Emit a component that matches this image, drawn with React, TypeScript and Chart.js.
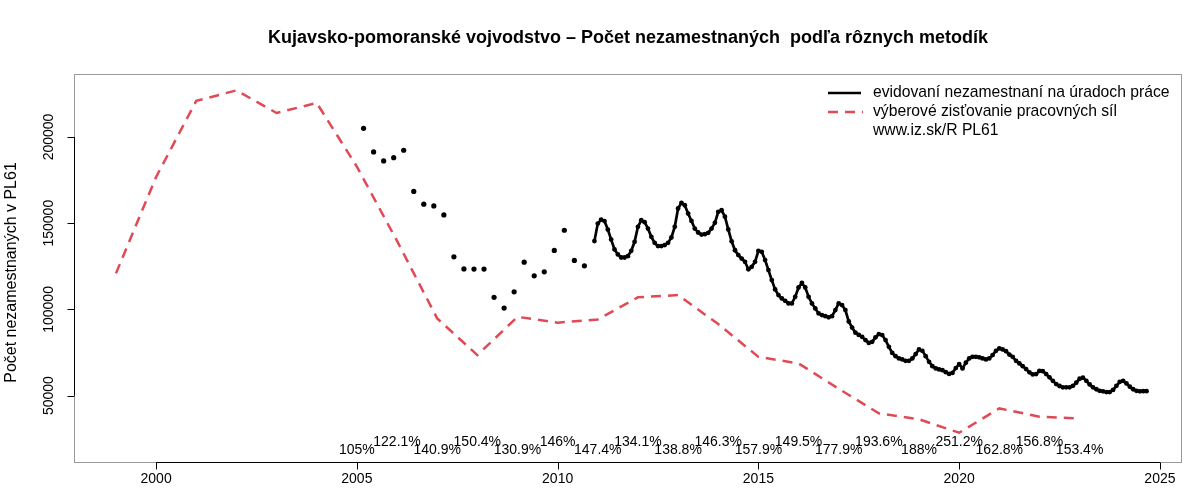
import { useEffect, useRef } from "react";
import { Chart, registerables } from "chart.js";

Chart.register(...registerables);

// ---- data ----
const lfsYears = [1999, 2000, 2001, 2002, 2003, 2004, 2005, 2006, 2007, 2008, 2009, 2010, 2011, 2012, 2013, 2014, 2015, 2016, 2017, 2018, 2019, 2020, 2021, 2022, 2023];
const lfsValues = [120900, 176800, 220900, 227000, 213900, 219700, 182800, 139700, 94800, 73500, 95700, 92300, 94200, 107000, 108300, 91500, 72500, 68700, 54000, 39700, 36300, 28500, 42600, 37800, 36700];

// quarterly registered unemployment, March 2005 .. September 2010
const quarterlyStartYear = 2005;
const quarterlyStartMonth = 3;
const quarterlyValues = [205000, 191300, 186100, 188000, 192300, 168400, 161000, 160000, 154800, 130500, 123500, 123400, 123400, 107000, 100800, 110200, 127400, 119500, 121800, 134200, 145900, 128400, 125300];

// monthly registered unemployment, December 2010 .. September 2024
const monthlyStartYear = 2010;
const monthlyStartMonth = 12;
const monthlyValues = [
  139600,
  149800, 152100, 151200, 146300, 140500, 134800, 131900, 130100, 130100, 130900, 134000, 139200,
  147900, 151700, 150600, 146900, 142100, 138600, 136700, 136700, 137300, 138600, 141700, 147900,
  158500, 161800, 160400, 155600, 151300, 146900, 144600, 143400, 143600, 144400, 146900, 150200,
  156600, 157500, 153800, 146400, 139500, 134300, 131500, 129500, 127600, 123300, 124700, 127600,
  134000, 133400, 128600, 122800, 117000, 111600, 108300, 106400, 105000, 103500, 103500, 107300,
  112700, 115400, 112700, 107300, 103500, 100600, 97700, 96700, 96100, 95400, 96100, 99600,
  103500, 102500, 99600, 93000, 89500, 86500, 85200, 84100, 82200, 80600, 81200, 83800,
  85700, 85100, 82200, 78300, 74800, 72900, 71600, 71000, 70200, 70200, 71600, 74100,
  76800, 76000, 72900, 69600, 67100, 65800, 65200, 64800, 63600, 62600, 63200, 66000,
  68300, 65800, 69100, 71600, 72500, 72500, 72200, 71600, 71000, 71600, 73500, 76000,
  77400, 76800, 75800, 73800, 72500, 70200, 68700, 67100, 65400, 63500, 62300, 62500,
  64400, 64200, 62500, 60600, 58600, 56700, 55600, 54800, 54800, 54800, 55700, 57500,
  59800, 60400, 58600, 56500, 54800, 53700, 52800, 52500, 52100, 52100, 53300, 55700,
  58000, 58600, 57100, 55200, 53700, 52800, 52500, 52600, 52600,
];

const ratioYears = [2005, 2006, 2007, 2008, 2009, 2010, 2011, 2012, 2013, 2014, 2015, 2016, 2017, 2018, 2019, 2020, 2021, 2022, 2023];
const ratioLabels = ["105%", "122.1%", "140.9%", "150.4%", "130.9%", "146%", "147.4%", "134.1%", "138.8%", "146.3%", "157.9%", "149.5%", "177.9%", "193.6%", "188%", "251.2%", "162.8%", "156.8%", "153.4%"];

const xTicks = [2000, 2005, 2010, 2015, 2020, 2025];
const yTicks = [50000, 100000, 150000, 200000];

const titleText = "Kujavsko-pomoranské vojvodstvo – Počet nezamestnaných  podľa rôznych metodík";
const yTitle = "Počet nezamestnaných v PL61";
const legendLabels = ["evidovaní nezamestnaní na úradoch práce", "výberové zisťovanie pracovných síl", "www.iz.sk/R PL61"];

const RED = "#DF4A55";
const FONT = "'Liberation Sans', Arial, Helvetica, sans-serif";

const toDecimal = (year: number, month: number, step: number, i: number) => {
  const m = month - 1 + step * i;
  return year + m / 12;
};

const decoPlugin = {
  id: "deco",
  afterDraw(chart: any) {
    const ctx: CanvasRenderingContext2D = chart.ctx;
    const xs = chart.scales.x;
    const ys = chart.scales.y;
    const a = chart.chartArea;
    ctx.save();

    // box
    ctx.strokeStyle = "#9a9a9a";
    ctx.lineWidth = 1;
    ctx.strokeRect(Math.round(a.left) - 0.5, Math.round(a.top) - 0.5, Math.round(a.right - a.left) + 1, Math.round(a.bottom - a.top) + 1);

    // x axis
    ctx.strokeStyle = "#000";
    ctx.fillStyle = "#000";
    const xb = Math.round(a.bottom) + 0.5;
    ctx.beginPath();
    ctx.moveTo(xs.getPixelForValue(xTicks[0]), xb);
    ctx.lineTo(xs.getPixelForValue(xTicks[xTicks.length - 1]), xb);
    xTicks.forEach((t) => {
      const px = Math.round(xs.getPixelForValue(t)) + 0.5;
      ctx.moveTo(px, xb);
      ctx.lineTo(px, xb + 7);
    });
    ctx.stroke();
    ctx.font = `14px ${FONT}`;
    ctx.textAlign = "center";
    ctx.textBaseline = "middle";
    xTicks.forEach((t) => ctx.fillText(String(t), xs.getPixelForValue(t), a.bottom + 17));

    // y axis
    const yl = Math.round(a.left) - 0.5;
    ctx.beginPath();
    ctx.moveTo(yl, ys.getPixelForValue(yTicks[0]));
    ctx.lineTo(yl, ys.getPixelForValue(yTicks[yTicks.length - 1]));
    yTicks.forEach((t) => {
      const py = Math.round(ys.getPixelForValue(t)) + 0.5;
      ctx.moveTo(yl, py);
      ctx.lineTo(yl - 7, py);
    });
    ctx.stroke();
    yTicks.forEach((t) => {
      ctx.save();
      ctx.translate(a.left - 26, ys.getPixelForValue(t));
      ctx.rotate(-Math.PI / 2);
      ctx.fillText(String(t), 0, 0);
      ctx.restore();
    });

    // y title
    ctx.save();
    ctx.font = `16px ${FONT}`;
    ctx.translate(12, (a.top + a.bottom) / 2 + 4);
    ctx.rotate(-Math.PI / 2);
    ctx.fillText(yTitle, 0, 0);
    ctx.restore();

    // title
    ctx.font = `bold 18px ${FONT}`;
    ctx.fillText(titleText, (a.left + a.right) / 2, 38);

    // ratio labels
    ctx.font = `14px ${FONT}`;
    ratioYears.forEach((yr, i) => {
      const py = i % 2 === 0 ? a.bottom - 12 : a.bottom - 20;
      ctx.fillText(ratioLabels[i], xs.getPixelForValue(yr), py);
    });

    // legend
    const lx0 = 828, lx1 = 861, tx = 873;
    const rows = [93, 112, 131];
    ctx.lineWidth = 2.5;
    ctx.strokeStyle = "#000";
    ctx.beginPath();
    ctx.moveTo(lx0, rows[0]);
    ctx.lineTo(lx1, rows[0]);
    ctx.stroke();
    ctx.strokeStyle = RED;
    ctx.setLineDash([10, 7]);
    ctx.beginPath();
    ctx.moveTo(lx0, rows[1]);
    ctx.lineTo(lx1 + 2, rows[1]);
    ctx.stroke();
    ctx.setLineDash([]);
    ctx.font = `15.7px ${FONT}`;
    ctx.textAlign = "left";
    ctx.fillStyle = "#000";
    legendLabels.forEach((l, i) => ctx.fillText(l, tx, rows[i]));

    ctx.restore();
  },
};

export default function App() {
  const ref = useRef<HTMLCanvasElement | null>(null);
  useEffect(() => {
    document.body.style.margin = "0";
    const canvas = ref.current;
    if (!canvas) return;
    const monthly = monthlyValues.map((v, i) => ({ x: toDecimal(monthlyStartYear, monthlyStartMonth, 1, i), y: v }));
    const quarterly = quarterlyValues.map((v, i) => ({ x: toDecimal(quarterlyStartYear, quarterlyStartMonth, 3, i), y: v }));
    const lfs = lfsValues.map((v, i) => ({ x: lfsYears[i], y: v }));
    const chart = new Chart(canvas, {
      type: "line",
      data: {
        datasets: [
          {
            data: monthly,
            borderColor: "#000",
            backgroundColor: "#000",
            borderWidth: 2.7,
            pointRadius: 2.4,
            pointBackgroundColor: "#000",
            pointBorderWidth: 0,
            tension: 0,
          },
          {
            data: quarterly,
            showLine: false,
            borderColor: "#000",
            backgroundColor: "#000",
            pointRadius: 2.6,
            pointBackgroundColor: "#000",
            pointBorderWidth: 0,
          },
          {
            data: lfs,
            borderColor: RED,
            borderWidth: 2.5,
            borderDash: [10, 7],
            pointRadius: 0,
            tension: 0,
          },
        ],
      },
      options: {
        responsive: false,
        animation: false,
        parsing: true,
        layout: { padding: { left: 75, top: 75, right: 19, bottom: 38 } },
        plugins: { legend: { display: false }, tooltip: { enabled: false }, title: { display: false } },
        scales: {
          x: { type: "linear", min: 1997.98, max: 2025.525, display: false },
          y: { type: "linear", min: 11530, max: 235920, display: false },
        },
      },
      plugins: [decoPlugin],
    });
    return () => chart.destroy();
  }, []);
  return (
    <div style={{ position: "absolute", left: 0, top: 0, width: 1200, height: 500 }}>
      <canvas ref={ref} width={1200} height={500} style={{ width: 1200, height: 500, display: "block" }} />
    </div>
  );
}
